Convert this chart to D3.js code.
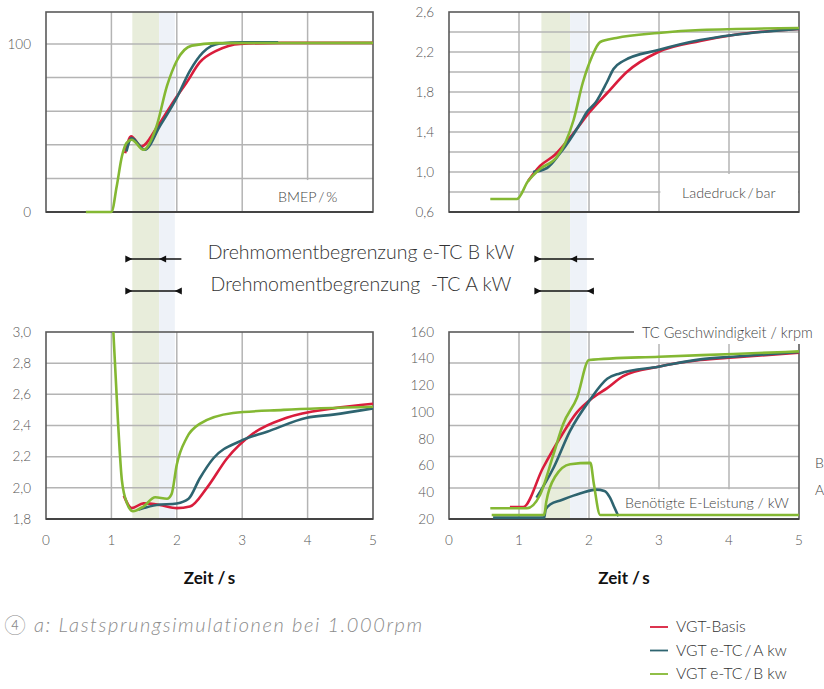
<!DOCTYPE html>
<html>
<head>
<meta charset="utf-8">
<script src="https://cdn.jsdelivr.net/npm/d3@7"></script>
<style>
  body { margin: 0; background: #fff; }
  svg { display: block; font-family: "Lato", "Noto Sans", sans-serif; }
</style>
</head>
<body>
<div id="chart"></div>
<script>
// time axis (s)
const timeTicks = [0, 1, 2, 3, 4, 5];
const timeGrid = [1, 2, 3, 4];
// limit bands: start, end e-TC B, end e-TC A
const bandTimes = [1.32, 1.73, 1.97];

// BMEP / %
const bmepTicks = [0, 100];
const bmepGrid = [20, 40, 60, 80, 100];
const bmepRed = [[1.21,35],[1.30,45],[1.46,39],[1.69,50],[1.97,67],[2.15,77],[2.35,89],[2.61,96],[2.97,100],[3.6,100.6],[5,100.6]];
const bmepTeal = [[1.23,36],[1.31,44],[1.51,37],[1.74,51],[2.0,68],[2.2,84],[2.4,95],[2.66,100.3],[3.0,101],[3.55,101]];
const bmepGreen = [[0.61,0],[1.0,0],[1.08,15],[1.16,33],[1.23,41],[1.31,43],[1.49,37],[1.69,51],[1.85,75],[2.0,90],[2.23,99],[2.6,100.5],[5,100.6]];

// Ladedruck / bar
const boostTicks = [0.6, 1.0, 1.4, 1.8, 2.2, 2.6];
const boostGrid = [0.8, 1.0, 1.2, 1.4, 1.6, 1.8, 2.0, 2.2, 2.4];
const boostRed = [[1.13,0.91],[1.30,1.06],[1.51,1.17],[1.78,1.39],[2.01,1.60],[2.26,1.79],[2.54,2.0],[2.99,2.2],[3.59,2.31],[4.06,2.37],[5,2.43]];
const boostTeal = [[1.2,1.0],[1.40,1.04],[1.59,1.19],[1.87,1.48],[1.97,1.60],[2.1,1.70],[2.25,1.89],[2.35,2.03],[2.49,2.11],[2.99,2.22],[3.59,2.32],[4.06,2.37],[5,2.43]];
const boostGreen = [[0.59,0.73],[0.97,0.73],[1.13,0.91],[1.30,1.03],[1.54,1.15],[1.66,1.29],[1.78,1.52],[1.91,1.89],[2.04,2.15],[2.16,2.30],[2.39,2.34],[2.99,2.39],[3.59,2.42],[5,2.44]];

// Druck (bottom left)
const pressTicks = [1.8, 2.0, 2.2, 2.4, 2.6, 2.8, 3.0];
const pressGrid = [2.0, 2.2, 2.4, 2.6, 2.8];
const pressRed = [[1.19,1.95],[1.31,1.87],[1.49,1.90],[1.74,1.89],[2.0,1.87],[2.2,1.88],[2.46,2.0],[2.77,2.19],[3.17,2.35],[3.68,2.45],[4.39,2.51],[5,2.54]];
const pressTeal = [[1.41,1.86],[1.69,1.89],[2.0,1.90],[2.18,1.93],[2.35,2.06],[2.56,2.19],[2.97,2.30],[3.38,2.36],[3.99,2.45],[4.39,2.47],[5,2.51]];
const pressGreen = [[1.03,3.0],[1.1,2.43],[1.16,2.05],[1.24,1.90],[1.33,1.85],[1.49,1.88],[1.67,1.94],[1.85,1.93],[1.92,1.96],[2.0,2.15],[2.15,2.32],[2.35,2.41],[2.86,2.48],[3.63,2.50],[5,2.52]];

// TC Geschwindigkeit / krpm and E-Leistung / kW (bottom right)
const speedTicks = [20, 40, 60, 80, 100, 120, 140, 160];
const speedGrid = [43.3, 66.7, 90, 113.3, 136.7];
const speedRed = [[0.87,29],[1.06,29],[1.34,58],[1.59,81],[1.83,100],[2.06,111],[2.26,118],[2.49,127],[2.99,134],[3.59,139],[4.06,141],[5,144.5]];
const speedTeal = [[1.25,36],[1.49,58],[1.73,86],[2.01,109],[2.26,125],[2.44,129],[2.99,134],[3.59,139.5],[4.06,141.5],[5,145]];
const speedGreen = [[0.59,28],[1.11,28],[1.3,38],[1.49,68],[1.63,91],[1.83,111],[2.0,139],[3.0,141.5],[4.06,143.5],[5,145.5]];
const powerTeal = [[0.63,21],[1.36,21],[1.38,27],[1.45,31],[1.6,34],[1.87,39],[2.1,42],[2.22,41],[2.3,36],[2.36,29],[2.42,22]];
const powerGreen = [[0.61,23],[1.36,23],[1.39,33],[1.52,52],[1.73,61],[2.02,62],[2.07,46],[2.16,23],[5,23]];

const colors = { red: "#d91d3c", teal: "#2e6470", green: "#84b833" };
const legendNames = ["VGT-Basis", "VGT e-TC\u2009/\u2009A kw", "VGT e-TC\u2009/\u2009B kw"];

const width = 824, height = 689;
const svg = d3.select("#chart").append("svg")
    .attr("width", width)
    .attr("height", height);

const xL = d3.scaleLinear().domain([0, 5]).range([46, 373]);
const xR = d3.scaleLinear().domain([0, 5]).range([449, 799]);
const yBmep = d3.scaleLinear().domain([0, 119]).range([212, 12]);
const yBoost = d3.scaleLinear().domain([0.6, 2.6]).range([212, 12]);
const yPress = d3.scaleLinear().domain([1.8, 3.0]).range([519, 332]);
const ySpeed = d3.scaleLinear().domain([20, 160]).range([519, 332]);

const fmt = d => d3.format(".1f")(d).replace(".", ",");

// bands behind everything, spanning both rows
[xL, xR].forEach(x => {
    svg.append("rect")
        .attr("x", x(bandTimes[0])).attr("y", 12)
        .attr("width", x(bandTimes[1]) - x(bandTimes[0])).attr("height", 507)
        .attr("fill", "#e8eddb");
    svg.append("rect")
        .attr("x", x(bandTimes[1])).attr("y", 12)
        .attr("width", x(bandTimes[2]) - x(bandTimes[1])).attr("height", 507)
        .attr("fill", "#eef2f8");
});

function panel(x, y, cfg) {
    const g = svg.append("g");
    const [x0, x1] = x.range();
    const [y0, y1] = y.range();

    g.selectAll(".hgrid").data(cfg.grid).join("line")
        .attr("x1", x0).attr("x2", x1)
        .attr("y1", d => y(d)).attr("y2", d => y(d))
        .attr("stroke", "#b4b4b4").attr("stroke-width", 1.5);
    g.selectAll(".vgrid").data(timeGrid).join("line")
        .attr("x1", d => x(d)).attr("x2", d => x(d))
        .attr("y1", y0).attr("y2", y1)
        .attr("stroke", "#b4b4b4").attr("stroke-width", 1.5);

    // white box under the unit label
    if (cfg.box) {
        g.append("rect")
            .attr("x", x(cfg.box[0])).attr("y", y(cfg.box[1]))
            .attr("width", x1 - x(cfg.box[0]) - 1).attr("height", y0 - y(cfg.box[1]) - 1)
            .attr("fill", "#fff");
    }

    // frame
    g.append("rect")
        .attr("x", x0).attr("y", y1)
        .attr("width", x1 - x0).attr("height", y0 - y1)
        .attr("fill", "none").attr("stroke", "#5a5a5a").attr("stroke-width", 1.6);
    g.append("line")
        .attr("x1", x0).attr("x2", x1).attr("y1", y0).attr("y2", y0)
        .attr("stroke", "#444").attr("stroke-width", 1.8);

    // y tick labels
    g.selectAll(".ylab").data(cfg.ticks).join("text")
        .attr("x", x0 - 15).attr("y", d => y(d))
        .attr("dy", "0.35em")
        .attr("text-anchor", "end")
        .attr("font-size", 13.5).attr("fill", "#555").attr("font-weight", 300)
        .text(cfg.format);

    const line = d3.line()
        .x(d => x(d[0])).y(d => y(d[1]))
        .curve(d3.curveMonotoneX);

    cfg.series.forEach(s => {
        g.append("path")
            .datum(s.data)
            .attr("fill", "none")
            .attr("stroke", colors[s.color])
            .attr("stroke-width", 2.6)
            .attr("stroke-linejoin", "round")
            .attr("d", line);
    });

    if (cfg.label) {
        g.append("text")
            .attr("x", cfg.label[1]).attr("y", cfg.label[2])
            .attr("dy", "0.35em")
            .attr("font-size", 14.3).attr("fill", "#444").attr("font-weight", 300)
            .text(cfg.label[0]);
    }

    if (cfg.xAxis) {
        g.selectAll(".xlab").data(timeTicks).join("text")
            .attr("x", d => x(d)).attr("y", 540)
            .attr("dy", "0.35em")
            .attr("text-anchor", "middle")
            .attr("font-size", 13.5).attr("fill", "#555").attr("font-weight", 300)
            .text(d => d);
        g.append("text")
            .attr("x", (x0 + x1) / 2).attr("y", 578)
            .attr("dy", "0.35em")
            .attr("text-anchor", "middle")
            .attr("font-size", 17).attr("font-weight", 700).attr("fill", "#111")
            .text("Zeit /\u2009s");
    }
    return g;
}

panel(xL, yBmep, {
    grid: bmepGrid, ticks: bmepTicks, format: d => d,
    box: [3.02, 19],
    label: ["BMEP\u2009/\u2009%", 278, 197],
    series: [
        { data: bmepRed, color: "red" },
        { data: bmepTeal, color: "teal" },
        { data: bmepGreen, color: "green" }
    ]
});

panel(xR, yBoost, {
    grid: boostGrid, ticks: boostTicks, format: fmt,
    box: [3.02, 0.98],
    label: ["Ladedruck\u2009/\u2009bar", 682, 193],
    series: [
        { data: boostRed, color: "red" },
        { data: boostTeal, color: "teal" },
        { data: boostGreen, color: "green" }
    ]
});

panel(xL, yPress, {
    grid: pressGrid, ticks: pressTicks, format: fmt, xAxis: true,
    series: [
        { data: pressRed, color: "red" },
        { data: pressTeal, color: "teal" },
        { data: pressGreen, color: "green" }
    ]
});

const br = panel(xR, ySpeed, {
    grid: speedGrid, ticks: speedTicks, format: d => d, xAxis: true,
    box: [2.45, 42.3],
    label: ["Benötigte E-Leistung / kW", 625, 503],
    series: [
        { data: speedRed, color: "red" },
        { data: speedTeal, color: "teal" },
        { data: speedGreen, color: "green" },
        { data: powerTeal, color: "teal" },
        { data: powerGreen, color: "green" }
    ]
});

// speed label sits on the top frame
br.append("rect")
    .attr("x", 634).attr("y", 322).attr("width", 190).attr("height", 22)
    .attr("fill", "#fff");
br.append("text")
    .attr("x", 642).attr("y", 333).attr("dy", "0.35em")
    .attr("font-size", 14.6).attr("fill", "#444").attr("font-weight", 300)
    .text("TC Geschwindigkeit / krpm");
br.append("text")
    .attr("x", 815).attr("y", 463).attr("dy", "0.35em")
    .attr("font-size", 14).attr("fill", "#444").attr("font-weight", 300)
    .text("B");
br.append("text")
    .attr("x", 815).attr("y", 490).attr("dy", "0.35em")
    .attr("font-size", 14).attr("fill", "#444").attr("font-weight", 300)
    .text("A");

// torque limit markers
const markerRows = [
    { y: 259, end: bandTimes[1], text: "Drehmomentbegrenzung e-TC B kW" },
    { y: 291, end: bandTimes[2], text: "Drehmomentbegrenzung  -TC A kW" }
];
[xL, xR].forEach(x => {
    markerRows.forEach(r => {
        svg.append("line")
            .attr("x1", x(bandTimes[0]) - 6).attr("x2", x(2.07))
            .attr("y1", r.y).attr("y2", r.y)
            .attr("stroke", "#111").attr("stroke-width", 1.3);
        const t0 = x(bandTimes[0]), t1 = x(r.end);
        svg.append("path")
            .attr("d", `M${t0},${r.y} L${t0 - 7},${r.y - 3.5} L${t0 - 7},${r.y + 3.5} Z`)
            .attr("fill", "#111");
        svg.append("path")
            .attr("d", `M${t1},${r.y} L${t1 + 7},${r.y - 3.5} L${t1 + 7},${r.y + 3.5} Z`)
            .attr("fill", "#111");
    });
});
markerRows.forEach(r => {
    svg.append("text")
        .attr("x", 361).attr("y", r.y - 7).attr("dy", "0.35em")
        .attr("text-anchor", "middle")
        .attr("font-size", 19.5).attr("fill", "#333").attr("font-weight", 300)
        .style("white-space", "pre")
        .text(r.text);
});

// caption
svg.append("text")
    .attr("x", 4).attr("y", 625).attr("dy", "0.35em")
    .attr("font-size", 20).attr("font-style", "italic").attr("font-weight", 300)
    .attr("letter-spacing", 1.6)
    .attr("fill", "#8c8c8c")
    .text("\u2463 a: Lastsprungsimulationen bei 1.000rpm");

// legend
const legend = svg.append("g");
legend.selectAll("line").data(legendNames).join("line")
    .attr("x1", 650).attr("x2", 668)
    .attr("y1", (d, i) => 627 + i * 23.5).attr("y2", (d, i) => 627 + i * 23.5)
    .attr("stroke", (d, i) => colors[["red", "teal", "green"][i]])
    .attr("stroke-width", 1.8);
legend.selectAll("text").data(legendNames).join("text")
    .attr("x", 676).attr("y", (d, i) => 627 + i * 23.5).attr("dy", "0.35em")
    .attr("font-size", 15.7).attr("fill", "#333").attr("font-weight", 300)
    .text(d => d);
</script>
</body>
</html>
